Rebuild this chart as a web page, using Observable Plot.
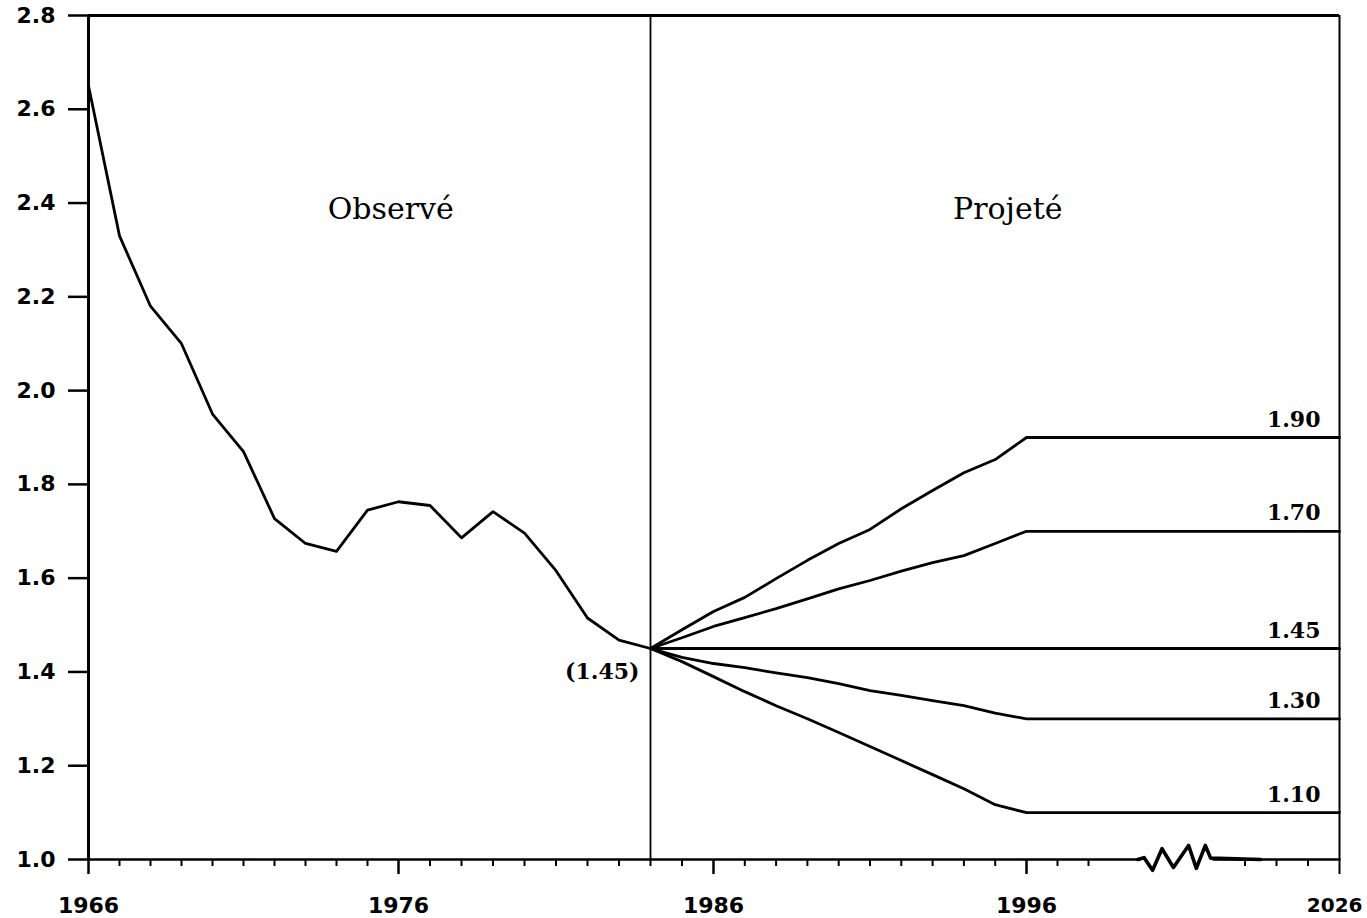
<!DOCTYPE html>
<html>
<head>
<meta charset="utf-8">
<script src="https://cdn.jsdelivr.net/npm/d3@7"></script>
<script src="https://cdn.jsdelivr.net/npm/@observablehq/plot@0.6"></script>
<style>
  html, body { margin: 0; padding: 0; background: #fff; }
  #chart svg { display: block; }
</style>
</head>
<body>
<div id="chart"></div>
<script>
// ---- Observed total fertility rate ----
const obsYears = [1966, 1967, 1968, 1969, 1970, 1971, 1972, 1973, 1974, 1975, 1976, 1977, 1978, 1979, 1980, 1981, 1982, 1983, 1984];
const obsValues = [2.65, 2.33, 2.18, 2.10, 1.95, 1.87, 1.727, 1.674, 1.657, 1.745, 1.763, 1.755, 1.686, 1.742, 1.696, 1.616, 1.515, 1.468, 1.45];

// ---- Projected scenarios ----
const projYears = [1984, 1985, 1986, 1987, 1988, 1989, 1990, 1991, 1992, 1993, 1994, 1995, 1996, 2026];
const proj190 = [1.45, 1.49, 1.529, 1.559, 1.599, 1.638, 1.674, 1.704, 1.748, 1.787, 1.825, 1.853, 1.90, 1.90];
const proj170 = [1.45, 1.473, 1.497, 1.516, 1.535, 1.556, 1.577, 1.595, 1.615, 1.633, 1.648, 1.674, 1.70, 1.70];
const proj145 = [1.45, 1.45, 1.45, 1.45, 1.45, 1.45, 1.45, 1.45, 1.45, 1.45, 1.45, 1.45, 1.45, 1.45];
const proj130 = [1.45, 1.431, 1.418, 1.409, 1.398, 1.388, 1.375, 1.36, 1.35, 1.339, 1.328, 1.312, 1.30, 1.30];
const proj110 = [1.45, 1.422, 1.39, 1.358, 1.328, 1.30, 1.271, 1.241, 1.211, 1.181, 1.151, 1.117, 1.10, 1.10];
const scenarioLabels = ["1.90", "1.70", "1.45", "1.30", "1.10"];
const scenarioSeries = [proj190, proj170, proj145, proj130, proj110];

// ---- Axis ticks ----
const yTicks = [1.0, 1.2, 1.4, 1.6, 1.8, 2.0, 2.2, 2.4, 2.6, 2.8];
const majorYears = [1966, 1976, 1986, 1996];
const endYear = [2026];
const minorYears = [1967, 1968, 1969, 1970, 1971, 1972, 1973, 1974, 1975,
                    1977, 1978, 1979, 1980, 1981, 1982, 1983, 1984, 1985,
                    1987, 1988, 1989, 1990, 1991, 1992, 1993, 1994, 1995,
                    1997, 1998, 2023, 2024, 2025];
const dividerYear = 1984;
const lastObservedLabel = "(1.45)";

// ---- Broken time axis (1999–2022 compressed) ----
const xBreakDomain = [1966, 1976, 1986, 1996, 1999, 2022, 2026];
const axisLineX = [1966, 2004, 2022, 2026];
const axisLineY = [1.0, 1.0, 1.0, 1.0];
const zigzagX = [2003.5, 2005.0, 2007.1, 2009.4, 2012.2, 2015.9, 2017.8, 2020.0, 2021.3, 2023.5];
const zigzagY = [1.0, 1.004, 0.977, 1.023, 0.983, 1.03, 0.981, 1.03, 1.003, 1.0];

// ---- Tables built from the arrays ----
const observed = obsYears.map((year, i) => ({year, value: obsValues[i]}));
const projected = scenarioLabels.flatMap((label, s) =>
  projYears.map((year, i) => ({scenario: label, year, value: scenarioSeries[s][i]})));
const scenarioEnds = scenarioLabels.map((label, s) =>
  ({scenario: label, year: projYears[projYears.length - 1], value: scenarioSeries[s][projYears.length - 1]}));
const axisSegments = [
  {x: axisLineX[0], y: axisLineY[0], seg: "a"}, {x: axisLineX[1], y: axisLineY[1], seg: "a"},
  {x: axisLineX[2], y: axisLineY[2], seg: "b"}, {x: axisLineX[3], y: axisLineY[3], seg: "b"}
];
const zigzag = zigzagX.map((x, i) => ({x, y: zigzagY[i]}));
const lastObs = observed[observed.length - 1];

const chart = Plot.plot({
  width: 1367,
  height: 918,
  marginLeft: 88,
  marginRight: 28,
  marginTop: 15,
  marginBottom: 59,
  style: {fontFamily: "DejaVu Sans", background: "#fff", color: "#000", overflow: "visible"},
  x: {type: "linear", domain: xBreakDomain, range: [88, 398, 713, 1026, 1119, 1213, 1339]},
  y: {domain: [1.0, 2.8]},
  marks: [
    // frame
    Plot.ruleY([2.8], {strokeWidth: 3}),
    Plot.ruleX([1966], {strokeWidth: 3}),
    Plot.ruleX([2026], {strokeWidth: 2}),
    Plot.ruleX([dividerYear], {strokeWidth: 1.8}),
    Plot.line(axisSegments, {x: "x", y: "y", z: "seg", strokeWidth: 2.6}),
    Plot.line(zigzag, {x: "x", y: "y", strokeWidth: 3.6, strokeLinejoin: "round", strokeLinecap: "round"}),
    // axes
    Plot.axisY({
      ticks: yTicks, tickSize: 20, tickPadding: 13, strokeWidth: 2.5,
      fontSize: 22, fontWeight: "bold", fontFamily: "DejaVu Sans",
      tickFormat: d => d.toFixed(1), label: null
    }),
    Plot.axisX({ticks: minorYears, tickSize: 7, strokeWidth: 2, fill: "none", label: null}),
    Plot.axisX({
      ticks: majorYears, tickSize: 15, tickPadding: 23, strokeWidth: 2.5,
      fontSize: 22, fontWeight: "bold", fontFamily: "DejaVu Sans",
      tickFormat: d => String(d), label: null
    }),
    Plot.axisX({ticks: endYear, tickSize: 15, strokeWidth: 2, fill: "none", label: null}),
    Plot.axisX({
      ticks: endYear, tickSize: 15, tickPadding: 23, stroke: "none",
      fontSize: 20, fontWeight: "bold", fontFamily: "DejaVu Sans",
      textAnchor: "end", dx: 23,
      tickFormat: d => String(d), label: null
    }),
    // data
    Plot.line(observed, {x: "year", y: "value", strokeWidth: 2.8, strokeLinejoin: "round"}),
    Plot.line(projected, {x: "year", y: "value", z: "scenario", strokeWidth: 2.8, strokeLinejoin: "round"}),
    // labels
    Plot.text(scenarioEnds, {
      x: "year", y: "value", text: "scenario", textAnchor: "end", lineAnchor: "bottom",
      dx: -19, dy: -11, fontFamily: "DejaVu Serif", fontWeight: "bold", fontSize: 22
    }),
    Plot.text([lastObs], {
      x: "year", y: "value", text: () => lastObservedLabel, textAnchor: "end", lineAnchor: "bottom",
      dx: -11, dy: 30, fontFamily: "DejaVu Serif", fontWeight: "bold", fontSize: 22
    }),
    Plot.text(["Observé"], {x: 1975.75, y: 2.367, text: d => d, lineAnchor: "bottom",
      fontFamily: "DejaVu Serif", fontSize: 30}),
    Plot.text(["Projeté"], {x: 1995.4, y: 2.367, text: d => d, lineAnchor: "bottom",
      fontFamily: "DejaVu Serif", fontSize: 30})
  ]
});
document.getElementById("chart").append(chart);
</script>
</body>
</html>
